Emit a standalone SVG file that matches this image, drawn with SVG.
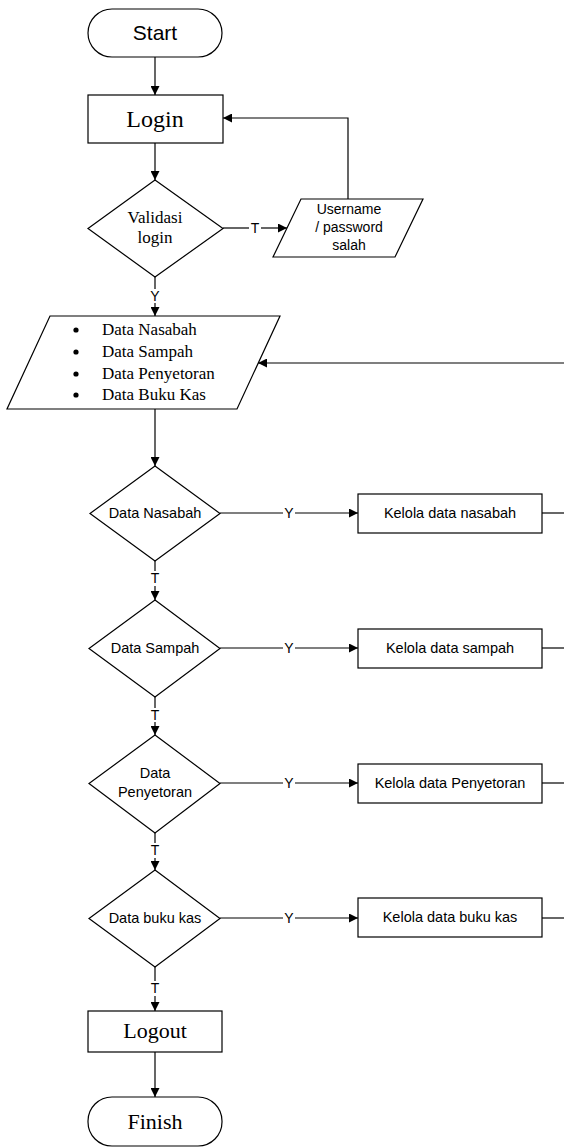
<svg xmlns="http://www.w3.org/2000/svg" width="564" height="1147" viewBox="0 0 564 1147">
<defs>
<marker id="arr" viewBox="0 0 10 10" refX="10" refY="5" markerUnits="userSpaceOnUse" markerWidth="9" markerHeight="9" orient="auto">
<path d="M0,0 L10,5 L0,10 z" fill="#000"/>
</marker>
<style>
.s{fill:#fff;stroke:#000;stroke-width:1.2}
.c{fill:none;stroke:#000;stroke-width:1.2}
.a{marker-end:url(#arr)}
.sans{font-family:"Liberation Sans",Arial,sans-serif;fill:#000}
.serif{font-family:"Liberation Serif","Times New Roman",serif;fill:#000}
.m{text-anchor:middle}
.lbl{font-family:"Liberation Sans",Arial,sans-serif;font-size:14px;text-anchor:middle;fill:#000}
</style>
</defs>
<rect width="564" height="1147" fill="#fff"/>
<g id="connectors">
<line class="c a" x1="155" y1="57" x2="155" y2="95"/>
<line class="c a" x1="155" y1="143" x2="155" y2="180"/>
<line class="c" x1="223" y1="228" x2="249" y2="228"/>
<text class="lbl" x="255" y="233">T</text>
<line class="c a" x1="261" y1="228" x2="287" y2="228"/>
<polyline class="c a" points="348,199 348,118 223,118"/>
<line class="c" x1="155" y1="277" x2="155" y2="289"/>
<text class="lbl" x="155" y="301">Y</text>
<line class="c a" x1="155" y1="303" x2="155" y2="316"/>
<line class="c a" x1="155" y1="409" x2="155" y2="466"/>
<line class="c a" x1="564" y1="363" x2="258" y2="363"/>
<line class="c" x1="220" y1="513" x2="283" y2="513"/>
<text class="lbl" x="289" y="518">Y</text>
<line class="c a" x1="295" y1="513" x2="358" y2="513"/>
<line class="c" x1="542" y1="513" x2="564" y2="513"/>
<line class="c" x1="155" y1="561" x2="155" y2="571"/>
<text class="lbl" x="155" y="583">T</text>
<line class="c a" x1="155" y1="586" x2="155" y2="600"/>
<line class="c" x1="220" y1="648" x2="283" y2="648"/>
<text class="lbl" x="289" y="653">Y</text>
<line class="c a" x1="295" y1="648" x2="358" y2="648"/>
<line class="c" x1="542" y1="648" x2="564" y2="648"/>
<line class="c" x1="155" y1="697" x2="155" y2="708"/>
<text class="lbl" x="155" y="720">T</text>
<line class="c a" x1="155" y1="722" x2="155" y2="735"/>
<line class="c" x1="220" y1="783" x2="283" y2="783"/>
<text class="lbl" x="289" y="788">Y</text>
<line class="c a" x1="295" y1="783" x2="358" y2="783"/>
<line class="c" x1="542" y1="783" x2="564" y2="783"/>
<line class="c" x1="155" y1="833" x2="155" y2="843"/>
<text class="lbl" x="155" y="855">T</text>
<line class="c a" x1="155" y1="858" x2="155" y2="870"/>
<line class="c" x1="220" y1="918" x2="283" y2="918"/>
<text class="lbl" x="289" y="923">Y</text>
<line class="c a" x1="295" y1="918" x2="358" y2="918"/>
<line class="c" x1="542" y1="918" x2="564" y2="918"/>
<line class="c" x1="155" y1="967" x2="155" y2="981"/>
<text class="lbl" x="155" y="993">T</text>
<line class="c a" x1="155" y1="996" x2="155" y2="1011"/>
<line class="c a" x1="155" y1="1052" x2="155" y2="1097"/>
</g>
<g id="start">
<rect class="s" x="88" y="9" width="134" height="48" rx="24" ry="24"/>
<text class="sans m" x="155" y="40" font-size="21">Start</text>
</g>
<g id="login">
<rect class="s" x="88" y="95" width="135" height="48"/>
<text class="serif m" x="155" y="127" font-size="24">Login</text>
</g>
<g id="validasi">
<polygon class="s" points="155,180 223,228.5 155,277 88,228.5"/>
<text class="serif m" x="155" y="223" font-size="17">Validasi</text>
<text class="serif m" x="155" y="243" font-size="17">login</text>
</g>
<g id="salah">
<polygon class="s" points="301,199 423,199 395,257 273,257"/>
<text class="sans m" x="349" y="214" font-size="14">Username</text>
<text class="sans m" x="349" y="232" font-size="14">/ password</text>
<text class="sans m" x="349" y="250" font-size="14">salah</text>
</g>
<g id="menu">
<polygon class="s" points="50,316 280,316 237,409 7,409"/>
<g class="serif" font-size="17">
<circle cx="76" cy="330" r="2.6" fill="#000"/>
<circle cx="76" cy="352" r="2.6" fill="#000"/>
<circle cx="76" cy="374" r="2.6" fill="#000"/>
<circle cx="76" cy="395" r="2.6" fill="#000"/>
<text x="102" y="335">Data Nasabah</text>
<text x="102" y="357">Data Sampah</text>
<text x="102" y="379">Data Penyetoran</text>
<text x="102" y="400">Data Buku Kas</text>
</g>
</g>
<g id="d-nasabah">
<polygon class="s" points="155,466 220,513.5 155,561 90,513.5"/>
<text class="sans m" x="155" y="518" font-size="14.5">Data Nasabah</text>
</g>
<g id="k-nasabah">
<rect class="s" x="358" y="494" width="184" height="39"/>
<text class="sans m" x="450" y="518" font-size="14.5">Kelola data nasabah</text>
</g>
<g id="d-sampah">
<polygon class="s" points="155,600 220,648.5 155,697 89,648.5"/>
<text class="sans m" x="155" y="653" font-size="14.5">Data Sampah</text>
</g>
<g id="k-sampah">
<rect class="s" x="358" y="629" width="184" height="39"/>
<text class="sans m" x="450" y="653" font-size="14.5">Kelola data sampah</text>
</g>
<g id="d-penyetoran">
<polygon class="s" points="155,735 220,783.5 155,833 89,783.5"/>
<text class="sans m" x="155" y="778" font-size="14.5">Data</text>
<text class="sans m" x="155" y="797" font-size="14.5">Penyetoran</text>
</g>
<g id="k-penyetoran">
<rect class="s" x="358" y="764" width="184" height="39"/>
<text class="sans m" x="450" y="788" font-size="14.5">Kelola data Penyetoran</text>
</g>
<g id="d-bukukas">
<polygon class="s" points="155,870 220,918.5 155,967 89,918.5"/>
<text class="sans m" x="155" y="923" font-size="14.5">Data buku kas</text>
</g>
<g id="k-bukukas">
<rect class="s" x="358" y="898" width="184" height="39"/>
<text class="sans m" x="450" y="922" font-size="14.5">Kelola data buku kas</text>
</g>
<g id="logout">
<rect class="s" x="88" y="1011" width="134" height="41"/>
<text class="serif m" x="155" y="1038" font-size="22">Logout</text>
</g>
<g id="finish">
<rect class="s" x="88" y="1097" width="134" height="49" rx="24" ry="24"/>
<text class="serif m" x="155" y="1129" font-size="22">Finish</text>
</g>
</svg>
